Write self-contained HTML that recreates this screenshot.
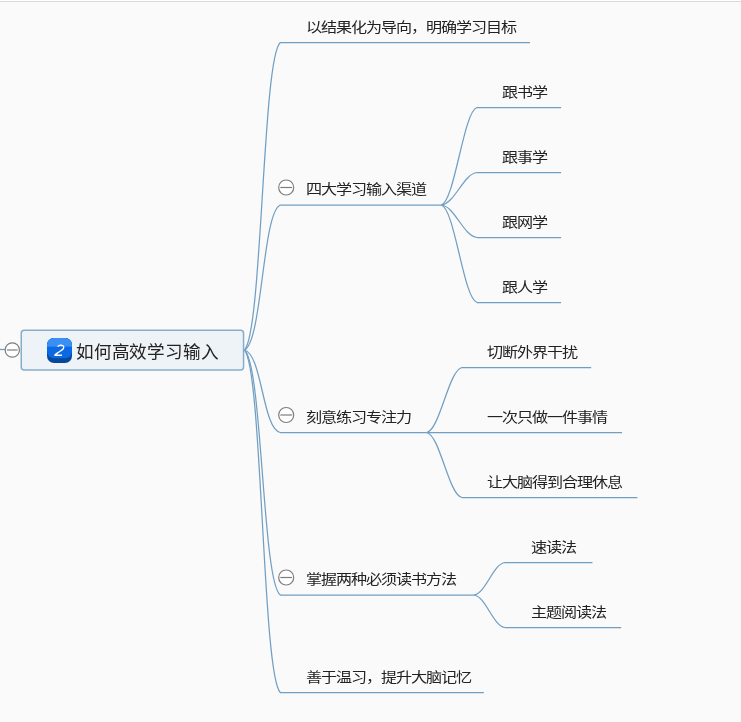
<!DOCTYPE html>
<html lang="zh-CN"><head><meta charset="utf-8"><title>mindmap</title>
<style>html,body{margin:0;padding:0;background:#fafafa;width:741px;height:722px;overflow:hidden}#w{will-change:transform;width:741px;height:722px}svg{display:block}</style>
</head><body><div id="w"><svg width="741" height="722" viewBox="0 0 741 722"><rect x="0" y="0" width="741" height="722" fill="#fafafa"/><rect x="0" y="0" width="741" height="1" fill="#ffffff"/><rect x="0" y="1" width="741" height="1" fill="#d9d9d9"/><g fill="none" stroke="#719fc3" stroke-width="1.25"><path d="M244.30 350.00C262.30 334.62 262.30 57.88 280.30 42.50L530.00 42.50"/><path d="M244.30 350.00C262.30 342.75 262.30 212.25 280.30 205.00L441.30 205.00"/><path d="M244.30 350.00C262.30 354.12 262.30 428.38 280.30 432.50L426.60 432.50"/><path d="M244.30 350.00C262.30 362.25 262.30 582.75 280.30 595.00L473.80 595.00"/><path d="M244.30 350.00C262.30 367.12 262.30 675.38 280.30 692.50L483.80 692.50"/><path d="M441.30 205.00C454.87 201.10 463.43 111.40 477.00 107.50L561.10 107.50"/><path d="M441.30 205.00C454.87 203.70 463.43 173.80 477.00 172.50L561.10 172.50"/><path d="M441.30 205.00C454.87 206.30 463.43 236.20 477.00 237.50L561.10 237.50"/><path d="M441.30 205.00C454.87 208.90 463.43 298.60 477.00 302.50L561.10 302.50"/><path d="M426.60 432.50C440.05 429.90 448.55 370.10 462.00 367.50L591.20 367.50"/><path d="M426.60 432.50L622.10 432.50"/><path d="M426.60 432.50C440.05 435.10 448.55 494.90 462.00 497.50L637.40 497.50"/><path d="M473.80 595.00C485.66 593.70 493.14 563.80 505.00 562.50L592.50 562.50"/><path d="M473.80 595.00C485.66 596.30 493.14 626.20 505.00 627.50L621.20 627.50"/></g><path d="M0 349.5H5" stroke="#719fc3" stroke-width="1.25"/><rect x="21.25" y="330.3" width="222.3" height="39.7" rx="3" ry="3" fill="#eef3f7" stroke="#86aecb" stroke-width="1.5"/><circle cx="12.3" cy="350" r="7.15" fill="#ffffff" stroke="#7d7d7d" stroke-width="1.2"/><path d="M7.00 350H17.60" stroke="#7d7d7d" stroke-width="1.2"/><circle cx="286.2" cy="187.5" r="7.5" fill="#ffffff" stroke="#7d7d7d" stroke-width="1.2"/><path d="M280.30 187.5H292.10" stroke="#7d7d7d" stroke-width="1.2"/><circle cx="286.2" cy="415.0" r="7.5" fill="#ffffff" stroke="#7d7d7d" stroke-width="1.2"/><path d="M280.30 415.0H292.10" stroke="#7d7d7d" stroke-width="1.2"/><circle cx="286.2" cy="577.5" r="7.5" fill="#ffffff" stroke="#7d7d7d" stroke-width="1.2"/><path d="M280.30 577.5H292.10" stroke="#7d7d7d" stroke-width="1.2"/><defs><clipPath id="ic"><rect x="47" y="338" width="25" height="25" rx="7" ry="7"/></clipPath></defs>
<g clip-path="url(#ic)">
<rect x="47" y="338" width="25" height="25" fill="#07489a"/>
</g>
<defs><clipPath id="ic2"><rect x="47" y="338" width="25" height="20.2" rx="7" ry="7"/></clipPath></defs>
<g clip-path="url(#ic2)">
<rect x="47" y="338" width="25" height="22" fill="#0b6ae3"/>
<rect x="47" y="338" width="25" height="8.7" fill="#3a8ef4"/>
</g>
<path d="M57.6 346.6C58.5 345.5 59.5 345.2 60.6 345.2C62.6 345.2 63.9 346 63.7 347.6C63.5 349.6 60.5 351 58 352.6C56.5 353.6 55.3 354.5 54.8 355.2H62" fill="none" stroke="#ffffff" stroke-width="1.35" stroke-linejoin="round"/><g font-family="Liberation Sans, sans-serif" fill="#222222"><text transform="translate(305.50 31.60) scale(1.15 1)" x="0.00 13.09 26.17 39.26 52.35 65.43 78.52 91.61 104.70 117.78 130.87 143.96 157.04 170.13" y="0" font-size="14">以结果化为导向，明确学习目标</text><text transform="translate(305.50 194.10) scale(1.15 1)" x="0.00 13.09 26.17 39.26 52.35 65.43 78.52 91.61" y="0" font-size="14">四大学习输入渠道</text><text transform="translate(305.50 421.60) scale(1.15 1)" x="0.00 13.09 26.17 39.26 52.35 65.43 78.52" y="0" font-size="14">刻意练习专注力</text><text transform="translate(305.50 584.10) scale(1.15 1)" x="0.00 13.09 26.17 39.26 52.35 65.43 78.52 91.61 104.70 117.78" y="0" font-size="14">掌握两种必须读书方法</text><text transform="translate(305.50 681.60) scale(1.15 1)" x="0.00 13.09 26.17 39.26 52.35 65.43 78.52 91.61 104.70 117.78 130.87" y="0" font-size="14">善于温习，提升大脑记忆</text><text transform="translate(501.60 96.60) scale(1.15 1)" x="0.00 13.09 26.17" y="0" font-size="14">跟书学</text><text transform="translate(501.60 161.60) scale(1.15 1)" x="0.00 13.09 26.17" y="0" font-size="14">跟事学</text><text transform="translate(501.60 226.60) scale(1.15 1)" x="0.00 13.09 26.17" y="0" font-size="14">跟网学</text><text transform="translate(501.60 291.60) scale(1.15 1)" x="0.00 13.09 26.17" y="0" font-size="14">跟人学</text><text transform="translate(486.80 356.60) scale(1.15 1)" x="0.00 13.09 26.17 39.26 52.35 65.43" y="0" font-size="14">切断外界干扰</text><text transform="translate(486.80 421.60) scale(1.15 1)" x="0.00 13.09 26.17 39.26 52.35 65.43 78.52 91.61" y="0" font-size="14">一次只做一件事情</text><text transform="translate(486.80 486.60) scale(1.15 1)" x="0.00 13.09 26.17 39.26 52.35 65.43 78.52 91.61 104.70" y="0" font-size="14">让大脑得到合理休息</text><text transform="translate(531.30 551.60) scale(1.15 1)" x="0.00 13.09 26.17" y="0" font-size="14">速读法</text><text transform="translate(531.30 616.60) scale(1.15 1)" x="0.00 13.09 26.17 39.26 52.35" y="0" font-size="14">主题阅读法</text><text x="75.70 93.60 111.50 129.40 147.30 165.20 183.10 201.00" y="358.2" font-size="17.6">如何高效学习输入</text></g></svg></div></body></html>
